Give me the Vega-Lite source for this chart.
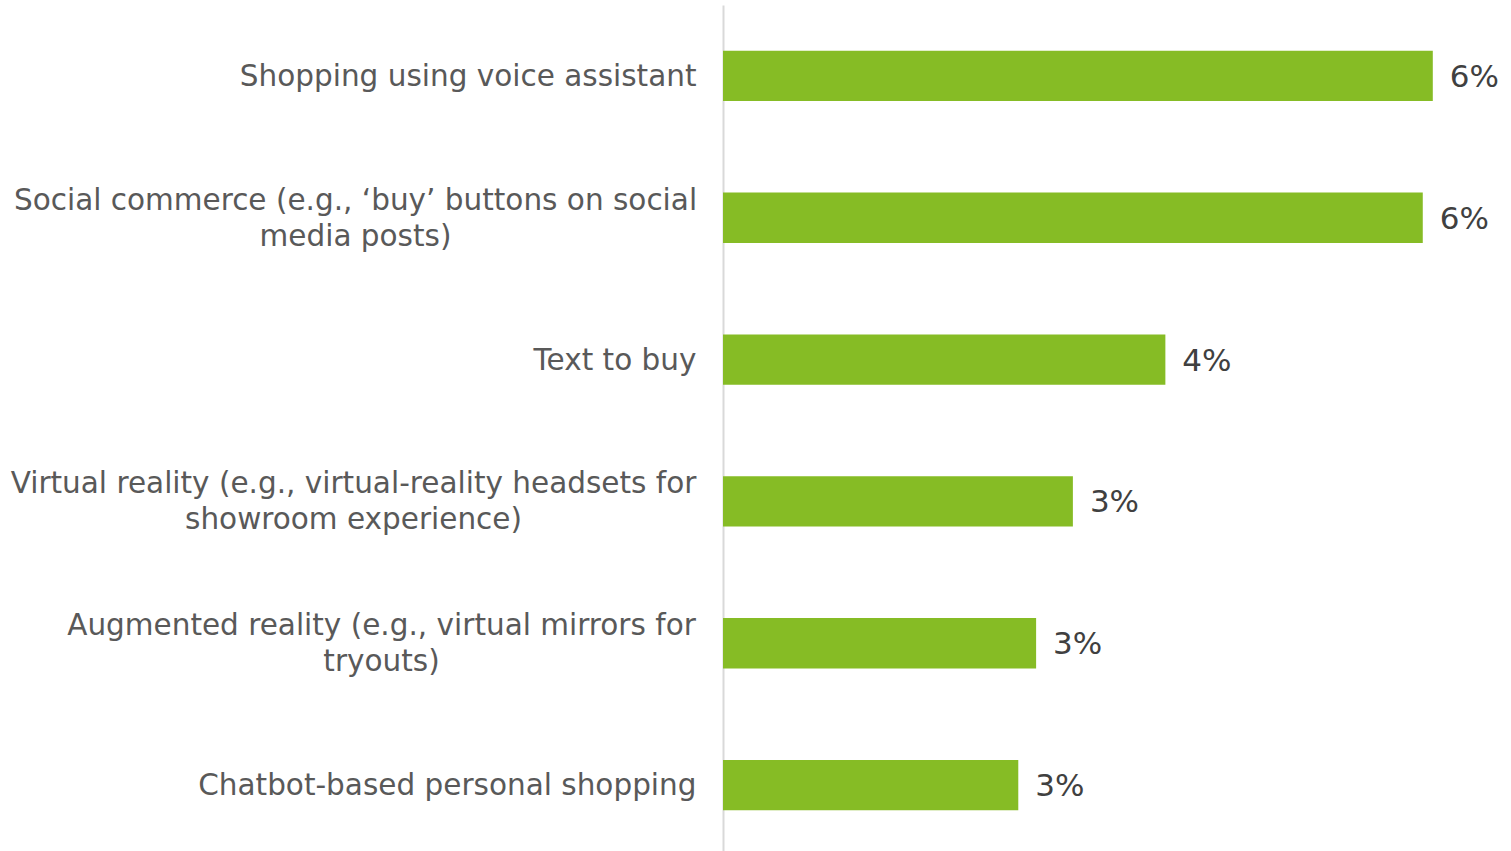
{
  "$schema": "https://vega.github.io/schema/vega-lite/v6.json",
  "autosize": {"type": "none"},
  "padding": {"left": 723, "top": 5, "right": 8, "bottom": 0},
  "width": 780,
  "height": 851,
  "background": "white",
  "config": {"view": {"stroke": null}, "font": "DejaVu Sans"},
  "data": {
    "values": [
      {"category": "Shopping using voice assistant", "value": 0.0637},
      {"category": "Social commerce (e.g., ‘buy’ buttons on social|media posts)", "value": 0.0628},
      {"category": "Text to buy", "value": 0.0397},
      {"category": "Virtual reality (e.g., virtual-reality headsets for|showroom experience)", "value": 0.0314},
      {"category": "Augmented reality (e.g., virtual mirrors for|tryouts)", "value": 0.0281},
      {"category": "Chatbot-based personal shopping", "value": 0.0265}
    ]
  },
  "encoding": {
    "y": {
      "field": "category",
      "type": "nominal",
      "sort": null,
      "scale": {"paddingInner": 0.645, "paddingOuter": 0.3225},
      "axis": {
        "title": null,
        "ticks": false,
        "domainColor": "#d9d9d9",
        "domainWidth": 2,
        "labelFontSize": 29.5,
        "labelColor": "#595959",
        "labelLimit": 800,
        "labelLineHeight": 36,
        "labelExpr": "split(datum.label, '|')",
        "labelAlign": {"condition": {"test": "indexof(datum.value, '|') >= 0", "value": "center"}, "value": "right"},
        "labelOffset": {"condition": {"test": "indexof(datum.value, '|') >= 0", "value": -17}, "value": 1},
        "labelPadding": {
          "condition": [
            {"test": "indexof(datum.value, 'Social') >= 0", "value": 368},
            {"test": "indexof(datum.value, 'Virtual') >= 0", "value": 370},
            {"test": "indexof(datum.value, 'Augmented') >= 0", "value": 342}
          ],
          "value": 27
        }
      }
    },
    "x": {
      "field": "value",
      "type": "quantitative",
      "scale": {"domain": [0, 0.07]},
      "axis": null
    }
  },
  "layer": [
    {"mark": {"type": "bar", "color": "#86BC25"}},
    {
      "mark": {"type": "text", "align": "left", "baseline": "middle", "dx": 17, "dy": 2, "fontSize": 31, "color": "#404040"},
      "encoding": {"text": {"field": "value", "type": "quantitative", "format": ".0%"}}
    }
  ]
}
